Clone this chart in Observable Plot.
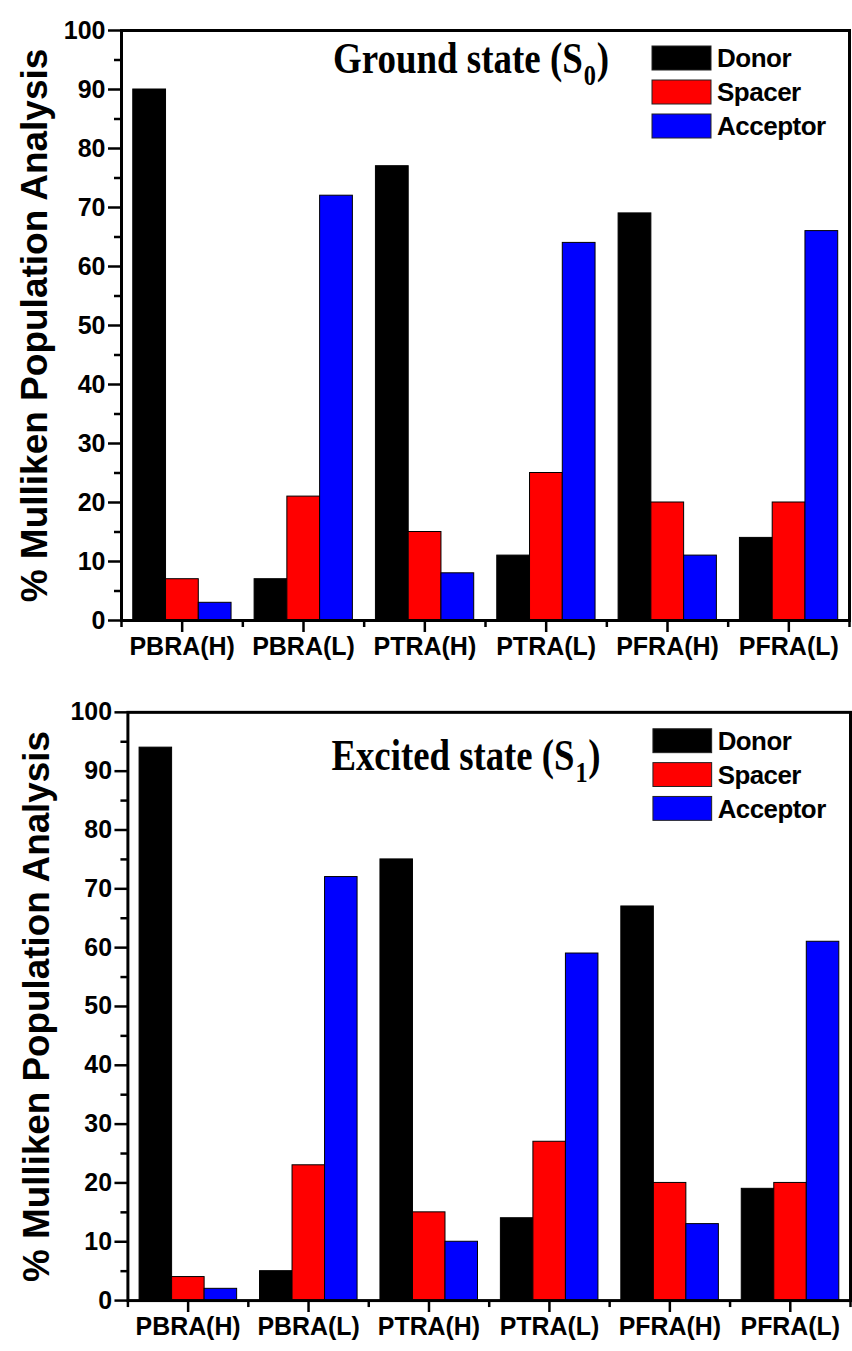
<!DOCTYPE html>
<html><head><meta charset="utf-8">
<script src="https://cdn.jsdelivr.net/npm/d3@7"></script>
<script src="https://cdn.jsdelivr.net/npm/@observablehq/plot@0.6"></script>
<style>
body{margin:0;background:#fff;overflow:hidden}
#chart{width:852px;overflow:hidden}
svg{display:block}
</style>
</head><body><div id="chart"></div>
<script>
const categories = ["PBRA(H)","PBRA(L)","PTRA(H)","PTRA(L)","PFRA(H)","PFRA(L)"];
const seriesNames = ["Donor","Spacer","Acceptor"];
const seriesColors = ["#000000","#ff0000","#0000ff"];
const groundDonor    = [90, 7, 77, 11, 69, 14];
const groundSpacer   = [7, 21, 15, 25, 20, 20];
const groundAcceptor = [3, 72, 8, 64, 11, 66];
const excitedDonor    = [94, 5, 75, 14, 67, 19];
const excitedSpacer   = [4, 23, 15, 27, 20, 20];
const excitedAcceptor = [2, 72, 10, 59, 13, 61];
const yMajorTicks = [0,10,20,30,40,50,60,70,80,90,100];
const yMinorTicks = [5,15,25,35,45,55,65,75,85,95];
const yLabel = "% Mulliken Population Analysis";

const GROUP_START = 0.097, BAR_W = 0.27;
const SANS = "'Liberation Sans', Arial, sans-serif";
const SERIF = "'Liberation Serif', 'Times New Roman', serif";

function panel(opts) {
  const seriesValues = opts.values;
  const rows = [];
  categories.forEach((c, i) => {
    seriesValues.forEach((vals, j) => {
      rows.push({i, j, value: vals[i]});
    });
  });
  const centers = categories.map((c, i) => i + 0.5);
  const bounds = categories.map((c, i) => i).concat([categories.length]);
  const svg = Plot.plot({
    width: opts.width, height: opts.height,
    marginTop: opts.mt, marginBottom: opts.mb, marginLeft: opts.ml, marginRight: opts.mr,
    x: {domain: [0, categories.length]},
    y: {domain: [0, 100]},
    style: {fontFamily: SANS, fontWeight: "bold", fontSize: "24px", color: "#000", background: "#fff", overflow: "visible"},
    marks: [
      Plot.rect(rows, {
        x1: d => d.i + GROUP_START + d.j * BAR_W,
        x2: d => d.i + GROUP_START + (d.j + 1) * BAR_W,
        y1: 0, y2: "value",
        fill: d => seriesColors[d.j],
        stroke: "#000", strokeWidth: 1
      }),
      Plot.axisY({ticks: yMajorTicks, tickSize: 13, tickPadding: 3, strokeWidth: 2.5, label: null, fontSize: 25}),
      Plot.axisY({ticks: yMinorTicks, tickSize: 7, strokeWidth: 2.5, tickFormat: () => "", label: null}),
      Plot.axisX({ticks: centers, tickSize: 12, tickPadding: 5, strokeWidth: 2.5, tickFormat: d => categories[Math.floor(d)], label: null, fontSize: 25}),
      Plot.axisX({ticks: bounds, tickSize: 7, strokeWidth: 2.5, tickFormat: () => "", label: null}),
      Plot.frame({stroke: "#000", strokeWidth: 3}),
      Plot.text([yLabel], {frameAnchor: "left", dx: opts.labelDx, rotate: -90, textAnchor: "middle", lineAnchor: "middle", fontSize: 37, fontWeight: "bold", fill: "#000"})
    ]
  });
  const s = d3.select(svg);
  const t = s.append("text")
    .attr("x", opts.titleX).attr("y", opts.titleY).attr("text-anchor", "start")
    .attr("font-family", SERIF).attr("font-weight", "bold").attr("font-size", 44).attr("fill", "#000")
    .attr("transform", `translate(${opts.titleX},0) scale(0.84,1) translate(${-opts.titleX},0)`);
  t.append("tspan").text(opts.title);
  t.append("tspan").attr("font-size", 29).attr("dx", 1).attr("dy", 12).text(opts.sub);
  t.append("tspan").attr("dx", 1).attr("dy", -12).text(")");
  seriesNames.forEach((name, j) => {
    const y0 = opts.legY + j * opts.legStep;
    s.append("rect").attr("x", opts.legX).attr("y", y0).attr("width", 59).attr("height", 24)
      .attr("fill", seriesColors[j]).attr("stroke", "#222").attr("stroke-width", 1);
    s.append("text").attr("x", opts.legX + 65).attr("y", y0 + 12).attr("dy", "0.36em")
      .attr("text-anchor", "start")
      .attr("font-family", SANS).attr("font-weight", "bold").attr("font-size", 26).attr("fill", "#000")
      .attr("letter-spacing", -0.5).text(name);
  });
  return svg;
}

const chart = document.getElementById("chart");
chart.appendChild(panel({
  values: [groundDonor, groundSpacer, groundAcceptor],
  width: 852, height: 680, mt: 30, mb: 60, ml: 121, mr: 3, labelDx: -86,
  title: "Ground state (S", sub: "0", titleX: 333, titleY: 73,
  legX: 652, legY: 46, legStep: 34
}));
chart.appendChild(panel({
  values: [excitedDonor, excitedSpacer, excitedAcceptor],
  width: 856, height: 671, mt: 32, mb: 48, ml: 128, mr: 2, labelDx: -91,
  title: "Excited state (S", sub: "1", titleX: 333, titleY: 90,
  legX: 656, legY: 49, legStep: 34
}));
</script>
</body></html>
